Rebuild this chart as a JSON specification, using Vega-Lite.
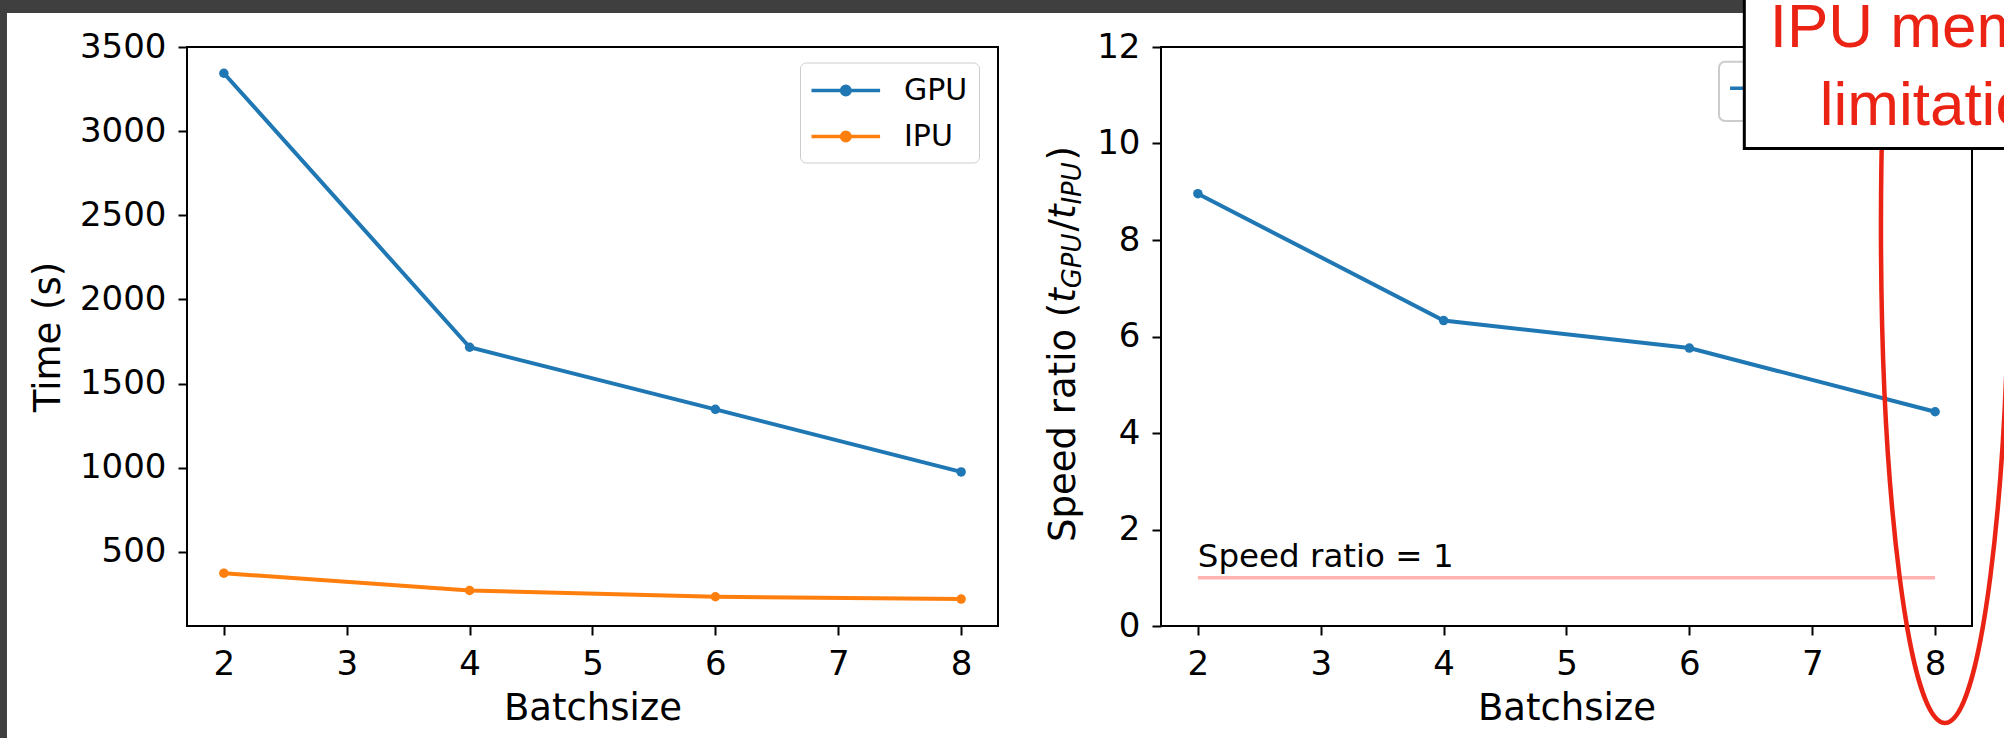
{
  "$schema": "https://vega.github.io/schema/vega-lite/v6.json",
  "autosize": {"type": "none"},
  "padding": {"left": 187, "top": 47, "right": 1817, "bottom": 691},
  "background": "white",
  "bounds": "flush",
  "spacing": 163,
  "datasets": {
    "times": [
      {"batch": 2, "time": 3345, "device": "GPU"},
      {"batch": 4, "time": 1716, "device": "GPU"},
      {"batch": 6, "time": 1347, "device": "GPU"},
      {"batch": 8, "time": 975, "device": "GPU"},
      {"batch": 2, "time": 373, "device": "IPU"},
      {"batch": 4, "time": 270, "device": "IPU"},
      {"batch": 6, "time": 233, "device": "IPU"},
      {"batch": 8, "time": 219, "device": "IPU"}
    ],
    "ratio": [
      {"batch": 2, "ratio": 8.96},
      {"batch": 4, "ratio": 6.33},
      {"batch": 6, "ratio": 5.76},
      {"batch": 8, "ratio": 4.44}
    ],
    "ref": [
      {"batch": 2, "ratio": 1},
      {"batch": 8, "ratio": 1}
    ],
    "one": [
      {"note": "annotation"}
    ]
  },
  "hconcat": [
    {
      "width": 811,
      "height": 579,
      "layer": [
        {
          "data": {"name": "times"},
          "mark": {"type": "line", "strokeWidth": 4},
          "encoding": {
            "x": {"field": "batch", "type": "quantitative", "scale": {"domain": [1.7, 8.3], "nice": false, "zero": false},
                  "axis": {"values": [2, 3, 4, 5, 6, 7, 8], "format": "d", "title": "Batchsize", "titlePadding": 9, "labelFlush": false}},
            "y": {"field": "time", "type": "quantitative", "scale": {"domain": [59, 3501], "nice": false, "zero": false},
                  "axis": {"values": [500, 1000, 1500, 2000, 2500, 3000, 3500], "format": "d", "title": "Time (s)", "titlePadding": 12, "labelFlush": false}},
            "color": {"field": "device", "type": "nominal",
              "scale": {"domain": ["GPU", "IPU"], "range": ["#1f77b4", "#ff7f0e"]},
              "legend": {
                "title": null, "orient": "none", "legendX": 613, "legendY": 15.5, "direction": "vertical",
                "symbolType": "M -1.1 0 L 3.473 0 M 1.467 0 C 1.467 0.1546 1.3416 0.28 1.187 0.28 C 1.0324 0.28 0.907 0.1546 0.907 0 C 0.907 -0.1546 1.0324 -0.28 1.187 -0.28 C 1.3416 -0.28 1.467 -0.1546 1.467 0 Z",
                "symbolSize": 900, "symbolStrokeWidth": 3.5, "symbolOpacity": 1,
                "labelFontSize": 30, "labelFont": "DejaVu Sans", "labelColor": "black", "labelOffset": 59,
                "padding": 11, "rowPadding": 14,
                "fillColor": "rgba(255,255,255,0.8)", "strokeColor": "#cccccc", "cornerRadius": 6,
                "encode": {"symbols": {"update": {
                  "fill": {"signal": "datum.value === 'GPU' ? '#1f77b4' : '#ff7f0e'"},
                  "stroke": {"signal": "datum.value === 'GPU' ? '#1f77b4' : '#ff7f0e'"}
                }}}
              }
            }
          }
        },
        {
          "data": {"name": "times"},
          "mark": {"type": "point", "filled": true, "size": 90, "opacity": 1},
          "encoding": {
            "x": {"field": "batch", "type": "quantitative"},
            "y": {"field": "time", "type": "quantitative"},
            "color": {"field": "device", "type": "nominal"}
          }
        },
        {
          "data": {"name": "one"},
          "mark": {"type": "rect", "color": "#3f3f3f"},
          "encoding": {"x": {"datum": 0.1, "type": "quantitative"}, "x2": {"datum": 16.6}, "y": {"datum": 3830, "type": "quantitative"}, "y2": {"datum": 3703}}
        },
        {
          "data": {"name": "one"},
          "mark": {"type": "rect", "color": "#3f3f3f"},
          "encoding": {"x": {"datum": 0.1, "type": "quantitative"}, "x2": {"datum": 0.235}, "y": {"datum": 3703, "type": "quantitative"}, "y2": {"datum": -660}}
        }
      ]
    },
    {
      "width": 811,
      "height": 579,
      "layer": [
        {
          "data": {"name": "ratio"},
          "mark": {"type": "line", "strokeWidth": 4, "color": "#1f77b4"},
          "encoding": {
            "x": {"field": "batch", "type": "quantitative", "scale": {"domain": [1.7, 8.3], "nice": false, "zero": false},
                  "axis": {"values": [2, 3, 4, 5, 6, 7, 8], "format": "d", "title": "Batchsize", "titlePadding": 9, "labelFlush": false}},
            "y": {"field": "ratio", "type": "quantitative", "scale": {"domain": [0, 12], "nice": false, "zero": false},
                  "axis": {"values": [0, 2, 4, 6, 8, 10, 12], "format": "d", "title": null, "labelFlush": false}}
          }
        },
        {
          "data": {"name": "ratio"},
          "mark": {"type": "point", "filled": true, "size": 90, "opacity": 1, "color": "#1f77b4"},
          "encoding": {
            "x": {"field": "batch", "type": "quantitative"},
            "y": {"field": "ratio", "type": "quantitative"}
          }
        },
        {
          "data": {"name": "ref"},
          "mark": {"type": "line", "color": "#ffb3b3", "strokeWidth": 3.5},
          "encoding": {
            "x": {"field": "batch", "type": "quantitative"},
            "y": {"field": "ratio", "type": "quantitative"}
          }
        },
        {
          "data": {"name": "one"},
          "mark": {"type": "rect", "fill": "white", "stroke": "#cccccc", "strokeWidth": 2, "cornerRadius": 6},
          "encoding": {"x": {"datum": 6.241, "type": "quantitative"}, "x2": {"datum": 6.9}, "y": {"datum": 11.695, "type": "quantitative"}, "y2": {"datum": 10.466}}
        },
        {
          "data": {"name": "one"},
          "mark": {"type": "rule", "color": "#1f77b4", "strokeWidth": 3.5},
          "encoding": {"x": {"datum": 6.331, "type": "quantitative"}, "x2": {"datum": 6.75}, "y": {"datum": 11.144, "type": "quantitative"}}
        },
        {
          "data": {"name": "one"},
          "mark": {"type": "text", "align": "left", "baseline": "alphabetic", "fontSize": 32.5, "font": "DejaVu Sans", "color": "black"},
          "encoding": {"x": {"datum": 2, "type": "quantitative"}, "y": {"datum": 1.217, "type": "quantitative"}, "text": {"value": "Speed ratio = 1"}}
        },
        {
          "data": {"name": "one"},
          "mark": {"type": "text", "angle": 270, "align": "left", "baseline": "alphabetic", "fontSize": 37, "font": "DejaVu Sans", "color": "black"},
          "encoding": {"x": {"datum": 1.0, "type": "quantitative"}, "y": {"datum": 1.741, "type": "quantitative"}, "text": {"value": "Speed ratio ("}}
        },
        {
          "data": {"name": "one"},
          "mark": {"type": "text", "angle": 270, "align": "left", "baseline": "alphabetic", "fontSize": 37, "font": "DejaVu Sans", "fontStyle": "italic", "color": "black"},
          "encoding": {"x": {"datum": 1.0, "type": "quantitative"}, "y": {"datum": 6.701, "type": "quantitative"}, "text": {"value": "t"}}
        },
        {
          "data": {"name": "one"},
          "mark": {"type": "text", "angle": 270, "align": "left", "baseline": "alphabetic", "fontSize": 25.9, "font": "DejaVu Sans", "fontStyle": "italic", "color": "black"},
          "encoding": {"x": {"datum": 1.049, "type": "quantitative"}, "y": {"datum": 7.001, "type": "quantitative"}, "text": {"value": "GPU"}}
        },
        {
          "data": {"name": "one"},
          "mark": {"type": "text", "angle": 270, "align": "left", "baseline": "alphabetic", "fontSize": 37, "font": "DejaVu Sans", "color": "black"},
          "encoding": {"x": {"datum": 1.0, "type": "quantitative"}, "y": {"datum": 8.174, "type": "quantitative"}, "text": {"value": "/"}}
        },
        {
          "data": {"name": "one"},
          "mark": {"type": "text", "angle": 270, "align": "left", "baseline": "alphabetic", "fontSize": 37, "font": "DejaVu Sans", "fontStyle": "italic", "color": "black"},
          "encoding": {"x": {"datum": 1.0, "type": "quantitative"}, "y": {"datum": 8.433, "type": "quantitative"}, "text": {"value": "t"}}
        },
        {
          "data": {"name": "one"},
          "mark": {"type": "text", "angle": 270, "align": "left", "baseline": "alphabetic", "fontSize": 25.9, "font": "DejaVu Sans", "fontStyle": "italic", "color": "black"},
          "encoding": {"x": {"datum": 1.049, "type": "quantitative"}, "y": {"datum": 8.734, "type": "quantitative"}, "text": {"value": "IPU"}}
        },
        {
          "data": {"name": "one"},
          "mark": {"type": "text", "angle": 270, "align": "left", "baseline": "alphabetic", "fontSize": 37, "font": "DejaVu Sans", "color": "black"},
          "encoding": {"x": {"datum": 1.0, "type": "quantitative"}, "y": {"datum": 9.65, "type": "quantitative"}, "text": {"value": ")"}}
        },
        {
          "data": {"name": "one"},
          "mark": {"type": "point", "filled": false, "opacity": 1, "color": "#eb2314", "strokeWidth": 4.5,
                   "shape": "M 0 -1 C 0.07113 -1 0.1288 -0.5523 0.1288 0 C 0.1288 0.5523 0.07113 1 0 1 C -0.07113 1 -0.1288 0.5523 -0.1288 0 C -0.1288 -0.5523 -0.07113 -1 0 -1 Z",
                   "size": 988036},
          "encoding": {"x": {"datum": 8.08, "type": "quantitative"}, "y": {"datum": 8.29, "type": "quantitative"}}
        },
        {
          "data": {"name": "one"},
          "mark": {"type": "rect", "fill": "white", "stroke": "black", "strokeWidth": 3},
          "encoding": {"x": {"datum": 6.447, "type": "quantitative"}, "x2": {"datum": 9.75}, "y": {"datum": 9.896, "type": "quantitative"}, "y2": {"datum": 13.18}}
        },
        {
          "data": {"name": "one"},
          "mark": {"type": "text", "align": "center", "baseline": "alphabetic", "fontSize": 62, "font": "Liberation Sans", "color": "#eb2314"},
          "encoding": {"x": {"datum": 8.056, "type": "quantitative"}, "y": {"datum": 12.0, "type": "quantitative"}, "text": {"value": "IPU memory"}}
        },
        {
          "data": {"name": "one"},
          "mark": {"type": "text", "align": "center", "baseline": "alphabetic", "fontSize": 62, "font": "Liberation Sans", "color": "#eb2314"},
          "encoding": {"x": {"datum": 8.056, "type": "quantitative"}, "y": {"datum": 10.383, "type": "quantitative"}, "text": {"value": "limitation"}}
        }
      ]
    }
  ],
  "resolve": {"scale": {"color": "independent"}, "legend": {"color": "independent"}},
  "config": {
    "font": "DejaVu Sans",
    "view": {"stroke": "black", "strokeWidth": 2},
    "axis": {
      "domain": false, "grid": false,
      "tickColor": "black", "tickWidth": 2, "tickSize": 9,
      "labelColor": "black", "labelFontSize": 34, "labelFont": "DejaVu Sans", "labelPadding": 12,
      "titleColor": "black", "titleFontSize": 37, "titleFont": "DejaVu Sans", "titleFontWeight": "normal"
    }
  }
}
